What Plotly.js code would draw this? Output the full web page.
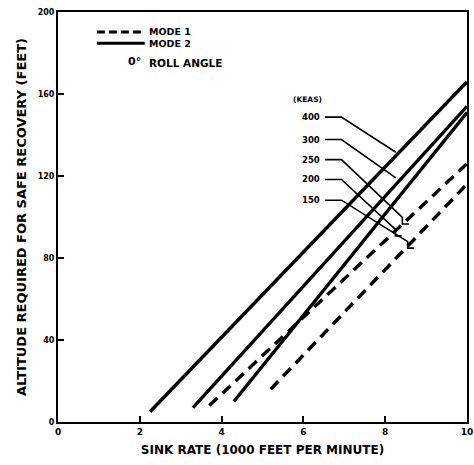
<!DOCTYPE html>
<html>
<head>
<meta charset="utf-8">
<script src="https://cdn.plot.ly/plotly-3.0.1.min.js"></script>
<style>html,body{margin:0;padding:0;background:#fff;}#chart{width:474px;height:465px;}</style>
</head>
<body>
<div id="chart"></div>
<script>
// Sink rate (1000 ft/min) and altitude (ft) for each airspeed line
const keasLabels = ["400", "300", "250", "200", "150"];
const line400Sink = [2.25, 10];
const line400Alt = [5, 166];
const line300Sink = [3.3, 10];
const line300Alt = [7, 154];
const line250Sink = [4.3, 10];
const line250Alt = [10, 151];
const line200Sink = [3.7, 10];
const line200Alt = [8, 126];
const line150Sink = [5.2, 10];
const line150Alt = [16, 116];
const lineModes = [2, 2, 2, 1, 1];
const xTicks = [0, 2, 4, 6, 8, 10];
const yTicks = [0, 40, 80, 120, 160, 200];

const FONT = "DejaVu Sans";
const ink = "#000";

const series = [
  [line400Sink, line400Alt],
  [line300Sink, line300Alt],
  [line250Sink, line250Alt],
  [line200Sink, line200Alt],
  [line150Sink, line150Alt]
];

const traces = series.map((s, i) => ({
  x: s[0], y: s[1], mode: "lines", type: "scatter",
  name: keasLabels[i] + " KEAS",
  line: {color: ink, width: 3.4, dash: lineModes[i] === 1 ? "11px,7px" : "solid"},
  hoverinfo: "skip", showlegend: false
}));

// leader lines from KEAS labels to curves
const leaders = [
  {x: [6.53, 6.93, 8.26], y: [148.7, 148.7, 131.6]},
  {x: [6.53, 6.93, 8.26], y: [137.8, 137.8, 119.1]},
  {x: [6.53, 6.93, 8.42, 8.42, 8.58], y: [128.0, 128.0, 99.8, 96.6, 96.6]},
  {x: [6.53, 6.93, 8.25, 8.25, 8.40], y: [118.3, 118.3, 94.0, 90.8, 90.8]},
  {x: [6.53, 6.93, 8.55, 8.55, 8.70], y: [108.2, 108.2, 88.0, 84.8, 84.8]}
];
leaders.forEach(l => traces.push({
  x: l.x, y: l.y, mode: "lines", type: "scatter",
  line: {color: ink, width: 1.6}, hoverinfo: "skip", showlegend: false
}));

// legend samples
traces.push({x: [0.95, 2.12], y: [190.3, 190.3], mode: "lines", type: "scatter",
  line: {color: ink, width: 3, dash: "8px,4px"}, hoverinfo: "skip", showlegend: false});
traces.push({x: [0.95, 2.12], y: [184.8, 184.8], mode: "lines", type: "scatter",
  line: {color: ink, width: 3}, hoverinfo: "skip", showlegend: false});

const labelRows = [148.7, 137.8, 128.0, 118.3, 108.2];
const annotations = keasLabels.map((t, i) => ({
  x: 6.18, y: labelRows[i], xref: "x", yref: "y", text: t, showarrow: false,
  font: {family: FONT, size: 8.5, color: ink, weight: "bold"}, xanchor: "center", yanchor: "middle"
}));
annotations.push({x: 6.1, y: 157.5, xref: "x", yref: "y", text: "(KEAS)", showarrow: false,
  font: {family: FONT, size: 7.5, color: ink, weight: "bold"}, xanchor: "center", yanchor: "middle"});
annotations.push({x: 2.17, y: 190.6, xref: "x", yref: "y", text: "MODE 1", showarrow: false,
  font: {family: FONT, size: 9.5, color: ink, weight: "bold"}, xanchor: "left", yanchor: "middle"});
annotations.push({x: 2.17, y: 184.6, xref: "x", yref: "y", text: "MODE 2", showarrow: false,
  font: {family: FONT, size: 9.5, color: ink, weight: "bold"}, xanchor: "left", yanchor: "middle"});
annotations.push({x: 2.17, y: 175.2, xref: "x", yref: "y", text: "ROLL ANGLE", showarrow: false,
  font: {family: FONT, size: 10.5, color: ink, weight: "bold"}, xanchor: "left", yanchor: "middle"});
annotations.push({x: 2.08, y: 175.8, xref: "x", yref: "y", text: "0°", showarrow: false,
  font: {family: FONT, size: 11, color: ink, weight: "bold"}, xanchor: "right", yanchor: "middle"});

const layout = {
  width: 474, height: 465,
  margin: {l: 57.5, r: 6.5, t: 12, b: 42.5},
  paper_bgcolor: "#fff", plot_bgcolor: "#fff",
  showlegend: false,
  font: {family: FONT, color: ink},
  xaxis: {
    range: [0, 10], tickvals: xTicks, ticktext: xTicks.map(String),
    showgrid: false, zeroline: false, showline: true, mirror: true,
    linecolor: ink, linewidth: 2, ticks: "inside", ticklen: 6, tickwidth: 2, tickcolor: ink,
    ticklabeloverflow: "allow",
    tickfont: {family: FONT, size: 9, color: ink, weight: "bold"},
    title: {text: "SINK RATE (1000 FEET PER MINUTE)", font: {family: FONT, size: 12, color: ink, weight: "bold"}, standoff: 10}
  },
  yaxis: {
    range: [0, 200], tickvals: yTicks, ticktext: yTicks.map(String),
    showgrid: false, zeroline: false, showline: true, mirror: true,
    linecolor: ink, linewidth: 2, ticks: "inside", ticklen: 6, tickwidth: 2, tickcolor: ink,
    tickfont: {family: FONT, size: 8, color: ink, weight: "bold"},
    title: {text: "ALTITUDE REQUIRED FOR SAFE RECOVERY (FEET)", font: {family: FONT, size: 13, color: ink, weight: "bold"}, standoff: 8}
  },
  annotations: annotations
};

Plotly.newPlot("chart", traces, layout, {displayModeBar: false, staticPlot: true});
</script>
</body>
</html>
